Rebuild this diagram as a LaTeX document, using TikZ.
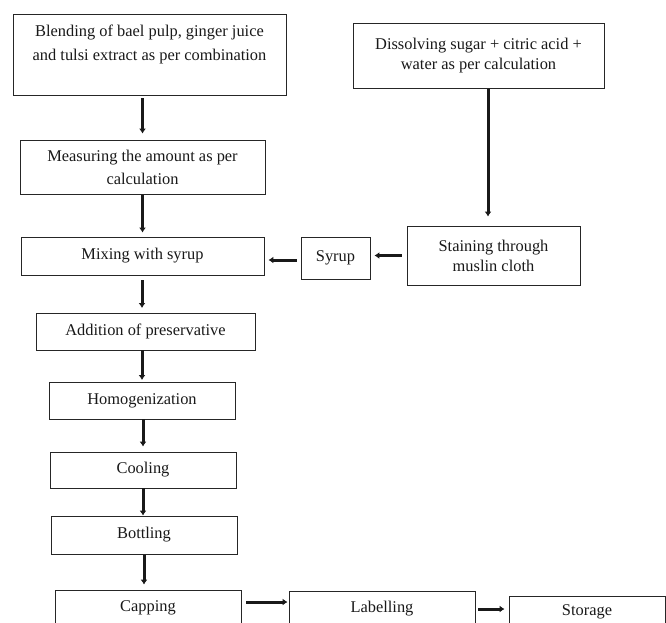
\documentclass[tikz,border=0pt]{standalone}
\usepackage{fontspec}
\setmainfont{Liberation Serif}
\usetikzlibrary{arrows.meta,calc}
\begin{document}
\begin{tikzpicture}[x=1pt,y=-1pt,
  box/.style={draw=black!85,line width=0.9pt,align=center,inner sep=0pt,
    font=\fontsize{16.4}{22}\selectfont,text=black!90},
  flow/.style={line width=3pt,draw=black!90,
    -{Latex[length=5pt,width=7pt]}}]
\useasboundingbox (0,0) rectangle (666,623);
\clip (0,0) rectangle (666,623);
\fill[white] (0,0) rectangle (666,623);
\node[box,minimum width=273pt,minimum height=81pt,font=\fontsize{16.4}{24}\selectfont] (blend) at (149.5,54.5)
  {Blending of bael pulp, ginger juice\\and tulsi extract as per combination\\\mbox{}};
\node[box,minimum width=251pt,minimum height=65pt,font=\fontsize{16.4}{20}\selectfont] (dissolve) at (478.5,56)
  {Dissolving sugar + citric acid +\\water as per calculation};
\node[box,minimum width=245pt,minimum height=54pt,font=\fontsize{16.4}{23}\selectfont] (measure) at (142.5,167)
  {Measuring the amount as per\\calculation};
\node[box,minimum width=243pt,minimum height=38pt] (mixing) at (142.5,256) {Mixing with syrup};
\node[box,minimum width=69pt,minimum height=42pt] (syrup) at (335.5,258) {Syrup};
\node[box,minimum width=173pt,minimum height=59pt,font=\fontsize{16.4}{20}\selectfont] (staining) at (493.5,255.5)
  {Staining through\\muslin cloth};
\node[box,minimum width=219pt,minimum height=37pt] (addition) at (145.5,331.5) {Addition of preservative};
\node[box,minimum width=186pt,minimum height=37pt] (homog) at (142,400.5) {Homogenization};
\node[box,minimum width=186pt,minimum height=36pt] (cooling) at (143,470) {Cooling};
\node[box,minimum width=186pt,minimum height=38pt] (bottling) at (144,535) {Bottling};
\node[box,minimum width=186pt,minimum height=36pt] (capping) at (148,608) {Capping};
\node[box,minimum width=186pt,minimum height=36pt] (labelling) at (382,609) {Labelling};
\node[box,minimum width=156pt,minimum height=32pt] (storage) at (587,612) {Storage};

\coordinate (a1) at (142,275);
\coordinate (a2) at (142,313);
\coordinate (b1) at (142,350);
\coordinate (b2) at (142,382);
\coordinate (c1) at ($(capping.east)+(0,-6)$);
\coordinate (c2) at (c1 -| labelling.west);
\coordinate (d1) at ($(dissolve.south)+(9.5,0)$);
\coordinate (d2) at (d1 |- staining.north);
\coordinate (s1) at ($(syrup.west)+(0,2)$);
\coordinate (s2) at (s1 -| mixing.east);

\draw[flow,shorten <=3pt,shorten >=6pt] (blend.south -| measure.north) -- (measure.north);
\draw[flow,shorten <=1pt,shorten >=4pt] (measure.south) -- (mixing.north);
\draw[flow,shorten <=5pt,shorten >=5pt] (a1) -- (a2);
\draw[flow,shorten <=0pt,shorten >=2pt] (b1) -- (b2);
\draw[flow,shorten <=0pt,shorten >=5pt] (homog.south -| cooling.north) -- (cooling.north);
\draw[flow,shorten <=0pt,shorten >=0pt] (cooling.south) -- (cooling.south |- bottling.north);
\draw[flow,shorten <=1pt,shorten >=5pt] (bottling.south) -- (bottling.south |- capping.north);
\draw[flow,shorten <=5pt,shorten >=1pt] (c1) -- (c2);
\draw[flow,shorten <=3pt,shorten >=4pt] (labelling.east) -- (labelling.east -| storage.west);
\draw[flow,shorten <=0pt,shorten >=9pt] (d1) -- (d2);
\draw[flow,shorten <=5pt,shorten >=4pt] (staining.west) -- (staining.west -| syrup.east);
\draw[flow,shorten <=4pt,shorten >=4pt] (s1) -- (s2);
\end{tikzpicture}
\end{document}
